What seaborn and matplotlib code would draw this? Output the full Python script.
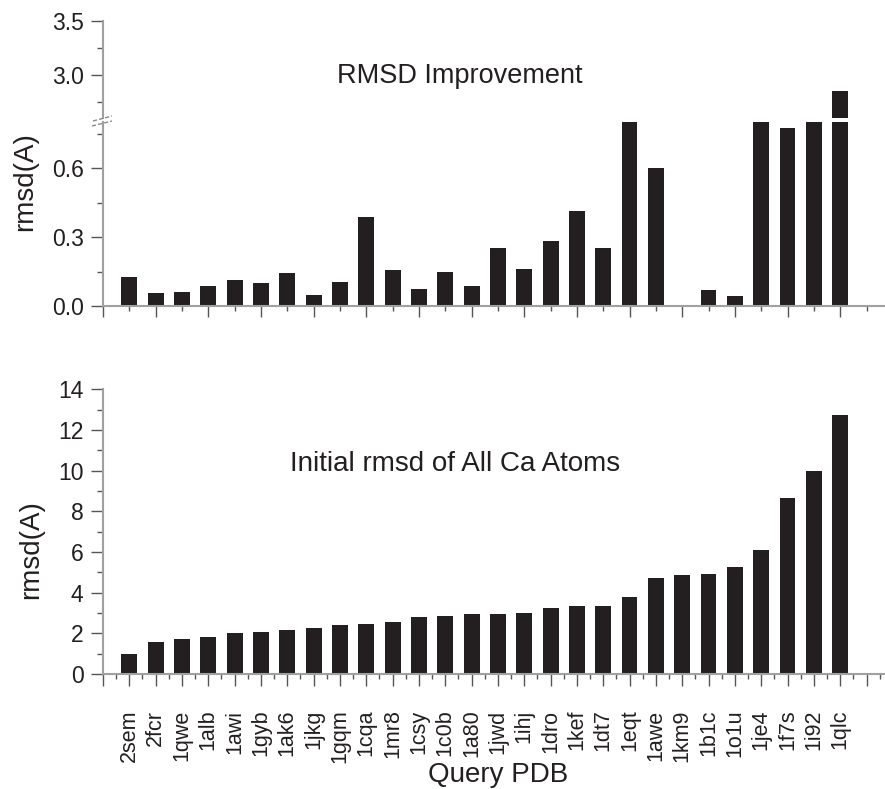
import matplotlib
matplotlib.use("Agg")
import numpy as np
import pandas as pd
import seaborn as sns
import matplotlib.pyplot as plt
from matplotlib.lines import Line2D

# ----- Data ----- #
pdb_ids = ["2sem", "2fcr", "1qwe", "1alb", "1awi", "1gyb", "1ak6", "1jkg", "1gqm", "1cqa",
           "1mr8", "1csy", "1c0b", "1a80", "1jwd", "1ihj", "1dro", "1kef", "1dt7", "1eqt",
           "1awe", "1km9", "1b1c", "1o1u", "1je4", "1f7s", "1i92", "1qlc"]

# RMSD improvement (A); 1km9 has no bar, bars at 0.80 run into the axis break
improvement = [0.127, 0.055, 0.061, 0.087, 0.113, 0.100, 0.142, 0.048, 0.104, 0.388,
               0.155, 0.072, 0.149, 0.088, 0.252, 0.161, 0.281, 0.413, 0.251, 0.80,
               0.599, 0.0, 0.070, 0.043, 0.80, 0.773, 0.80, 2.85]

# initial rmsd of all Ca atoms (A)
initial_rmsd = [0.98, 1.57, 1.70, 1.84, 2.02, 2.05, 2.18, 2.25, 2.39, 2.46,
                2.56, 2.80, 2.87, 2.93, 2.95, 2.98, 3.25, 3.34, 3.36, 3.79,
                4.70, 4.85, 4.92, 5.26, 6.08, 8.67, 9.98, 12.74]

df = pd.DataFrame({"pdb": pdb_ids, "improvement": improvement, "initial": initial_rmsd})

bar_color = "#231f20"
spine_color = "#a0a0a0"
tick_color = "#555555"

sns.set_style("ticks")
plt.rcParams["font.family"] = ["Liberation Sans", "DejaVu Sans"]
plt.rcParams["xtick.direction"] = "out"
plt.rcParams["ytick.direction"] = "out"

W, H = 885, 789
fig = plt.figure(figsize=(W / 100, H / 100), dpi=100)


def px_axes(left, top, right, bottom):
    return fig.add_axes([left / W, 1 - bottom / H, (right - left) / W, (bottom - top) / H])


ax_up = px_axes(103, 21, 885, 118)
ax_lo = px_axes(103, 122, 885, 306)
ax_b = px_axes(103, 389.3, 885, 674)

for ax, col in [(ax_up, "improvement"), (ax_lo, "improvement"), (ax_b, "initial")]:
    sns.barplot(data=df, x="pdb", y=col, order=pdb_ids, color=bar_color, saturation=1,
                width=0.6, linewidth=0, errorbar=None, ax=ax)
    ax.set_xlim(-1, 28.7)
    ax.set_xlabel("")
    ax.set_ylabel("")
    for side in ["top", "right"]:
        ax.spines[side].set_visible(False)
    for side in ["left", "bottom"]:
        ax.spines[side].set_color(spine_color)
        ax.spines[side].set_linewidth(1.5)
    ax.tick_params(axis="both", which="both", color=tick_color, width=1, labelcolor=bar_color)
    ax.tick_params(axis="y", which="major", length=9, labelsize=16.5, pad=5)
    ax.tick_params(axis="y", which="minor", length=4.3)

# ----- Top panel, broken y axis ----- #
ax_up.set_ylim(2.6, 3.5)
ax_up.spines["bottom"].set_visible(False)
ax_up.set_xticks([])
ax_up.set_yticks([3.0, 3.5])
ax_up.set_yticks([2.75, 3.25], minor=True)
ax_up.set_yticklabels(["3.0", "3.5"])

ax_lo.set_ylim(0, 0.8)
ax_lo.set_yticks([0.0, 0.3, 0.6])
ax_lo.set_yticks([0.15, 0.45, 0.75], minor=True)
ax_lo.set_yticklabels(["0.0", "0.3", "0.6"])
ax_lo.set_xticks(list(range(-1, 29, 2)))
ax_lo.set_xticks(list(range(0, 29, 2)), minor=True)
ax_lo.set_xticklabels([])
ax_lo.tick_params(axis="x", which="major", length=7.7)
ax_lo.tick_params(axis="x", which="minor", length=3.6)

# break marks on the left axis
for (x0, y0, x1, y1) in [(92, 126, 112, 121), (93, 121, 112, 116)]:
    fig.add_artist(Line2D([x0 / W, x1 / W], [1 - y0 / H, 1 - y1 / H], color="#8a8a8a",
                          lw=1, ls=(0, (3, 1.5)), transform=fig.transFigure))

# ----- Bottom panel ----- #
ax_b.set_ylim(0, 14)
ax_b.set_yticks(list(range(0, 15, 2)))
ax_b.set_yticks(list(range(1, 14, 2)), minor=True)
ax_b.set_yticklabels([str(v) for v in range(0, 15, 2)])
ax_b.set_xticks(list(range(-1, 29)))
ax_b.set_xticks(list(np.arange(-0.5, 28.7, 1.0)), minor=True)
ax_b.set_xticklabels([""] + pdb_ids + [""], rotation=90, fontsize=15.5)
ax_b.tick_params(axis="x", which="major", length=8.6, pad=17)
ax_b.tick_params(axis="x", which="minor", length=3.6)

# ----- Texts ----- #
fig.text(460 / W, 1 - 83 / H, "RMSD Improvement", ha="center", va="baseline", fontsize=19.5,
         color=bar_color)
fig.text(455.5 / W, 1 - 470.7 / H, "Initial rmsd of All Ca Atoms", ha="center", va="baseline",
         fontsize=20, color=bar_color)
fig.text(25 / W, 1 - 182 / H, "rmsd(A)", rotation=90, ha="center", va="center", fontsize=20,
         color=bar_color)
fig.text(31 / W, 1 - 550 / H, "rmsd(A)", rotation=90, ha="center", va="center", fontsize=20,
         color=bar_color)
fig.text(498 / W, 1 - 782 / H, "Query PDB", ha="center", va="baseline", fontsize=20,
         color=bar_color)

fig.savefig("out.png", dpi=100)
